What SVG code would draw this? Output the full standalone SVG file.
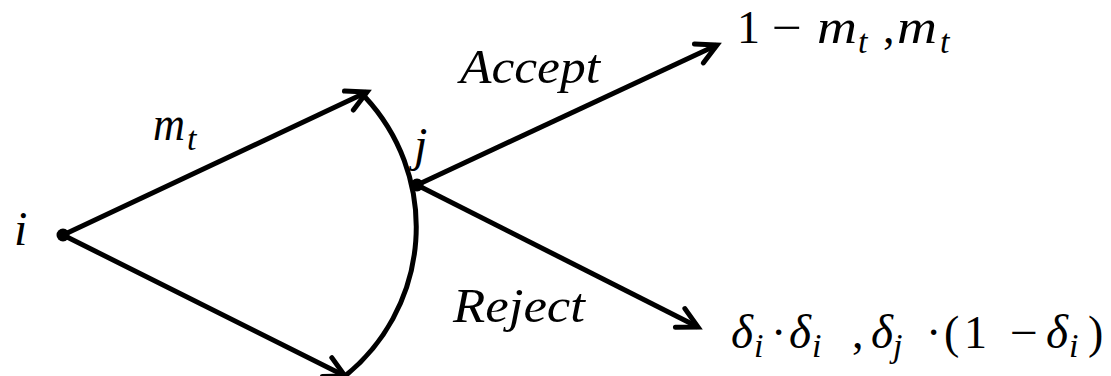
<svg xmlns="http://www.w3.org/2000/svg" width="1111" height="376" viewBox="0 0 1111 376">
<style>
.ln{fill:none;stroke:#000;stroke-width:5;stroke-linecap:butt}
.it{font-family:"Liberation Serif",serif;font-style:italic;font-size:48px;fill:#000}
.rm{font-family:"Liberation Serif",serif;font-size:46px;fill:#000}
.sb{font-family:"Liberation Serif",serif;font-style:italic;font-size:34px;fill:#000}
.dot{fill:#000}
</style>
<defs>
<marker id="arr" viewBox="-26 -16 32 32" refX="0" refY="0" markerWidth="32" markerHeight="32" markerUnits="userSpaceOnUse" orient="auto">
<path d="M-20,-10.5 L0,0 L-20,10.5" fill="none" stroke="#000" stroke-width="5" stroke-linecap="round" stroke-linejoin="miter"/>
</marker>
</defs>
<rect width="1111" height="376" fill="#fff"/>
<g id="connectors">
<line class="ln" x1="63" y1="235" x2="367" y2="92" marker-end="url(#arr)"/>
<line class="ln" x1="63" y1="235" x2="345" y2="376" marker-end="url(#arr)"/>
<path class="ln" d="M365,97 A191,191 0 0 1 345,376"/>
<line class="ln" x1="417" y1="185" x2="717" y2="45" marker-end="url(#arr)"/>
<line class="ln" x1="417" y1="185" x2="698" y2="327" marker-end="url(#arr)"/>
<g id="edge-labels">
<text class="it" x="153" y="140" textLength="32" lengthAdjust="spacingAndGlyphs">m</text><text class="sb" x="187" y="150">t</text>
<text class="it" x="460" y="83" textLength="140" lengthAdjust="spacingAndGlyphs">Accept</text>
<text class="it" x="453" y="322" textLength="132" lengthAdjust="spacingAndGlyphs">Reject</text>
</g>
</g>
<g id="node-i">
<circle class="dot" cx="63" cy="235" r="6.5"/>
<text class="it" x="14" y="245">i</text>
</g>
<g id="node-j">
<circle class="dot" cx="417" cy="185" r="6.5"/>
<text class="it" x="414" y="161">j</text>
</g>
<g id="node-accept">
<text class="rm" x="737" y="43">1</text>
<text class="rm" x="772" y="43" textLength="30" lengthAdjust="spacingAndGlyphs">−</text>
<text class="it" x="817" y="43" textLength="40" lengthAdjust="spacingAndGlyphs">m</text><text class="sb" x="858" y="53">t</text>
<text class="rm" x="883" y="43">,</text>
<text class="it" x="897" y="43" textLength="40" lengthAdjust="spacingAndGlyphs">m</text><text class="sb" x="940" y="53">t</text>
</g>
<g id="node-reject">
<text class="it" x="731" y="348" textLength="22" lengthAdjust="spacingAndGlyphs">δ</text><text class="sb" x="754" y="357">i</text>
<text class="rm" x="771" y="348">·</text>
<text class="it" x="789" y="348" textLength="22" lengthAdjust="spacingAndGlyphs">δ</text><text class="sb" x="812" y="357">i</text>
<text class="rm" x="852" y="348">,</text>
<text class="it" x="871" y="348" textLength="22" lengthAdjust="spacingAndGlyphs">δ</text><text class="sb" x="893" y="357">j</text>
<text class="rm" x="926" y="348">·</text>
<text class="rm" x="944" y="348">(</text>
<text class="rm" x="964" y="348">1</text>
<text class="rm" x="1010" y="348" textLength="28" lengthAdjust="spacingAndGlyphs">−</text>
<text class="it" x="1046" y="348" textLength="22" lengthAdjust="spacingAndGlyphs">δ</text><text class="sb" x="1069" y="357">i</text>
<text class="rm" x="1088" y="348">)</text>
</g>
</svg>
